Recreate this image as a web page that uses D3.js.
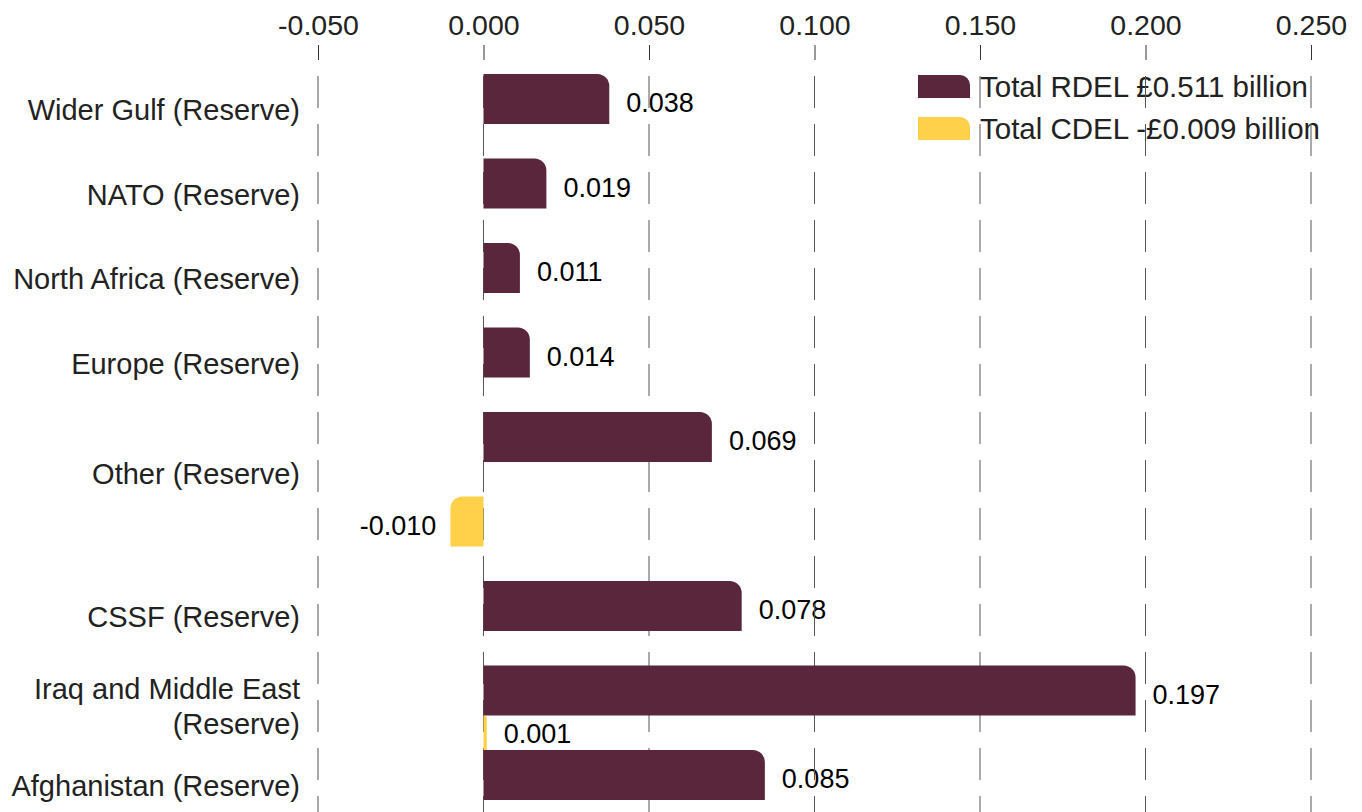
<!DOCTYPE html>
<html>
<head>
<meta charset="utf-8">
<script src="https://cdn.jsdelivr.net/npm/d3@7"></script>
<style>
  html, body { margin: 0; padding: 0; background: #fff; }
  svg { display: block; font-family: "Helvetica Neue", Helvetica, "Liberation Sans", Arial, sans-serif; }
</style>
</head>
<body>
<svg id="chart" width="1362" height="812"></svg>
<script>
// Reserve claims by area, £ billion
const categories = [
  "Wider Gulf (Reserve)",
  "NATO (Reserve)",
  "North Africa (Reserve)",
  "Europe (Reserve)",
  "Other (Reserve)",
  "CSSF (Reserve)",
  "Iraq and Middle East (Reserve)",
  "Afghanistan (Reserve)"
];
const rdelValues = [0.038, 0.019, 0.011, 0.014, 0.069, 0.078, 0.197, 0.085];
const cdelValues = [null, null, null, null, -0.010, null, 0.001, null];
const seriesNames = ["Total RDEL £0.511 billion", "Total CDEL -£0.009 billion"];
const seriesColors = ["#59263c", "#ffd04a"];
const tickValues = [-0.05, 0, 0.05, 0.1, 0.15, 0.2, 0.25];

const svg = d3.select("#chart");

// Each bar is one record; tiny CDEL values sit in the gap under their RDEL bar
const bars = [];
categories.forEach((c, i) => {
  bars.push({ cat: c, series: 0, value: rdelValues[i], key: c + "|0", slot: true });
  if (cdelValues[i] !== null) {
    bars.push({ cat: c, series: 1, value: cdelValues[i], key: c + "|1", slot: Math.abs(cdelValues[i]) >= 0.005 });
  }
});
const slotKeys = bars.filter(b => b.slot).map(b => b.key);

const x = d3.scaleLinear().domain([-0.05, 0.25]).range([318, 1311]);
const y = d3.scaleBand().domain(slotKeys)
  .range([56.75, 817.25]).paddingInner(0.408).paddingOuter(0.204);
const bw = y.bandwidth();

bars.forEach((b, i) => {
  if (b.slot) {
    b.y0 = y(b.key);
    b.h = bw;
  } else {
    const prev = bars[i - 1];
    b.y0 = y(prev.key) + bw;
    b.h = y.step() - bw;
  }
  b.cy = b.y0 + b.h / 2;
});

// Bar outline with a rounded outer top corner
function barPath(b) {
  const x0 = x(0), x1 = x(b.value);
  const w = Math.abs(x1 - x0);
  const r = Math.min(12, w, b.h);
  const top = b.y0, bot = b.y0 + b.h;
  if (b.value >= 0) {
    return `M${x0},${top}H${x1 - r}A${r},${r} 0 0 1 ${x1},${top + r}V${bot}H${x0}Z`;
  }
  return `M${x0},${top}H${x1 + r}A${r},${r} 0 0 0 ${x1},${top + r}V${bot}H${x0}Z`;
}

// Legend
const legend = svg.append("g").attr("class", "legend");
seriesNames.forEach((name, i) => {
  const ly = 75 + i * 42;
  const sx = 918, sw = 52, sh = 23, r = 10;
  legend.append("path")
    .attr("d", `M${sx},${ly}H${sx + sw - r}A${r},${r} 0 0 1 ${sx + sw},${ly + r}V${ly + sh}H${sx}Z`)
    .attr("fill", seriesColors[i]);
  legend.append("text")
    .attr("x", 980).attr("y", ly + 22)
    .attr("font-size", 29.5).attr("fill", "#222")
    .text(name);
});

// Value labels
svg.append("g").attr("class", "values")
  .selectAll("text").data(bars).join("text")
  .attr("x", d => d.value >= 0 ? x(d.value) + 17 : x(d.value) - 14)
  .attr("y", d => d.cy + (d.slot ? 13 : 10))
  .attr("text-anchor", d => d.value >= 0 ? "start" : "end")
  .attr("font-size", 27).attr("fill", "#000")
  .text(d => d.value.toFixed(3));

// Top axis
const axis = svg.append("g")
  .attr("transform", "translate(0,60)")
  .call(d3.axisTop(x).tickValues(tickValues).tickFormat(d => d.toFixed(3)).tickSize(15).tickPadding(10));
axis.select(".domain").remove();
axis.selectAll(".tick line").attr("stroke", "#333");
axis.selectAll(".tick text")
  .attr("font-size", 28.5).attr("fill", "#222")
  .attr("font-family", "\"Helvetica Neue\", Helvetica, \"Liberation Sans\", Arial, sans-serif");

// Dashed gridlines
svg.append("g").attr("class", "grid")
  .selectAll("line").data(tickValues).join("line")
  .attr("x1", d => x(d)).attr("x2", d => x(d))
  .attr("y1", 76).attr("y2", 812)
  .attr("stroke", "#555").attr("stroke-width", 1)
  .attr("stroke-dasharray", "32,16");

// Bars
svg.append("g").attr("class", "bars")
  .selectAll("path").data(bars).join("path")
  .attr("d", barPath)
  .attr("fill", d => seriesColors[d.series]);

// Category labels, centred on each category's bars
const catLabels = svg.append("g").attr("class", "categories");
categories.forEach(c => {
  const own = bars.filter(b => b.cat === c);
  const mid = d3.mean(own, b => b.cy);
  const anchor = own.length === 1 ? mid + 11 : mid - 5;
  const lines = c.length > 24 ? [c.slice(0, c.indexOf(" (")), c.slice(c.indexOf(" (") + 1)] : [c];
  const lh = 35;
  const t = catLabels.append("text")
    .attr("text-anchor", "end")
    .attr("font-size", 29).attr("fill", "#222");
  lines.forEach((ln, j) => {
    t.append("tspan")
      .attr("x", 300)
      .attr("y", anchor + 10 + (j - (lines.length - 1) / 2) * lh)
      .text(ln);
  });
});
</script>
</body>
</html>
